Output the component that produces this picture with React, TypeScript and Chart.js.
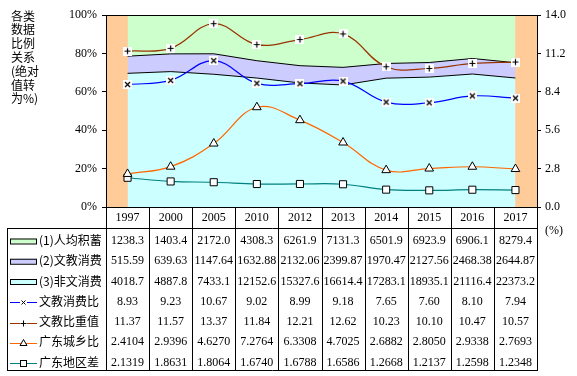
import React, { useEffect, useRef } from "react";
import { Chart, registerables } from "chart.js";

Chart.register(...registerables);

const years = ["1997", "2000", "2005", "2010", "2012", "2013", "2014", "2015", "2016", "2017"];
const savings = [1238.3, 1403.4, 2172.0, 4308.3, 6261.9, 7131.3, 6501.9, 6923.9, 6906.1, 8279.4];
const culture = [515.59, 639.63, 1147.64, 1632.88, 2132.06, 2399.87, 1970.47, 2127.56, 2468.38, 2644.87];
const nonCulture = [4018.7, 4887.8, 7433.1, 12152.6, 15327.6, 16614.4, 17283.1, 18935.1, 21116.4, 22373.2];
const cultureRatio = [8.93, 9.23, 10.67, 9.02, 8.99, 9.18, 7.65, 7.6, 8.1, 7.94];
const cultureWeight = [11.37, 11.57, 13.37, 11.84, 12.21, 12.62, 10.23, 10.1, 10.47, 10.57];
const urbanRural = [2.4104, 2.9396, 4.627, 7.2764, 6.3308, 4.7025, 2.6882, 2.805, 2.9338, 2.7693];
const regional = [2.1319, 1.8631, 1.8064, 1.674, 1.6788, 1.6586, 1.2668, 1.2137, 1.2598, 1.2348];

const leftTicks = [0, 20, 40, 60, 80, 100];
const rightMax = 14;
const rightStep = 2.8;

const seriesNames = ["(1)人均积蓄", "(2)文教消费", "(3)非文消费", "文教消费比", "文教比重值", "广东城乡比", "广东地区差"];
const titleLines = ["各类", "数据", "比例", "关系", "(绝对", "值转", "为%)"];

const SERIF = "'Liberation Serif', 'Times New Roman', serif";
const CJK = "'Noto Sans CJK SC', sans-serif";

function makeMarker(kind: "x" | "+"): HTMLCanvasElement {
  const c = document.createElement("canvas");
  c.width = 9;
  c.height = 9;
  const g = c.getContext("2d")!;
  g.fillStyle = "#fff";
  g.fillRect(0, 0, 9, 9);
  g.strokeStyle = "#000";
  g.lineWidth = 1.2;
  g.beginPath();
  if (kind === "x") {
    g.moveTo(2, 2); g.lineTo(7, 7);
    g.moveTo(7, 2); g.lineTo(2, 7);
  } else {
    g.moveTo(4.5, 1.5); g.lineTo(4.5, 7.5);
    g.moveTo(1.5, 4.5); g.lineTo(7.5, 4.5);
  }
  g.stroke();
  return c;
}

export default function App() {
  const ref = useRef<HTMLCanvasElement | null>(null);

  useEffect(() => {
    if (!ref.current) return;
    const totals = years.map((_, i) => savings[i] + culture[i] + nonCulture[i]);
    const pct = (arr: number[]) => arr.map((v, i) => (v / totals[i]) * 100);

    const tableRows: string[][] = [
      savings.map((v) => v.toFixed(1)),
      culture.map((v) => v.toFixed(2)),
      nonCulture.map((v) => v.toFixed(1)),
      cultureRatio.map((v) => v.toFixed(2)),
      cultureWeight.map((v) => v.toFixed(2)),
      urbanRural.map((v) => v.toFixed(4)),
      regional.map((v) => v.toFixed(4)),
    ];
    const areaColors = ["#CCFFCC", "#CCCCFF", "#CCFFFF"];
    const lineColors = ["#0000FF", "#993300", "#FF6600", "#008080"];

    const plugin = {
      id: "excelLook",
      beforeDraw(chart: any) {
        const { ctx, chartArea: a } = chart;
        ctx.save();
        ctx.fillStyle = "#fff";
        ctx.fillRect(0, 0, chart.width, chart.height);
        ctx.fillStyle = "#FFCC99";
        ctx.fillRect(a.left, a.top, a.right - a.left, a.bottom - a.top);
        ctx.restore();
      },
      afterDraw(chart: any) {
        const { ctx, chartArea: a } = chart;
        const xs = chart.scales.x;
        ctx.save();
        // plot border
        ctx.strokeStyle = "#000";
        ctx.lineWidth = 1;
        ctx.strokeRect(Math.round(a.left) + 0.5, Math.round(a.top) + 0.5, Math.round(a.right - a.left), Math.round(a.bottom - a.top));

        // left title
        ctx.fillStyle = "#000";
        ctx.font = "12px " + CJK;
        ctx.textAlign = "left";
        ctx.textBaseline = "middle";
        titleLines.forEach((t, i) => ctx.fillText(t, 11, 16 + i * 13.8));

        // "(%)"
        ctx.font = "12px " + SERIF;
        ctx.fillText("(%)", 545, 231);

        // table geometry
        const n = years.length;
        const colW = (a.right - a.left) / n;
        const headTop = Math.round(a.bottom);
        const headBottom = 228;
        const tableBottom = 370;
        const tableLeft = 7;
        const right = Math.round(a.right);
        const rowCenter = (i: number) => 240.5 + i * 20.25;

        ctx.strokeStyle = "#000";
        ctx.lineWidth = 1;
        ctx.beginPath();
        for (let i = 0; i <= n; i++) {
          const x = Math.round(a.left + i * colW) + 0.5;
          ctx.moveTo(x, headTop);
          ctx.lineTo(x, tableBottom);
        }
        ctx.moveTo(tableLeft, headBottom + 0.5);
        ctx.lineTo(right + 1, headBottom + 0.5);
        ctx.moveTo(tableLeft, tableBottom + 0.5);
        ctx.lineTo(right + 1, tableBottom + 0.5);
        ctx.moveTo(tableLeft + 0.5, headBottom);
        ctx.lineTo(tableLeft + 0.5, tableBottom + 1);
        ctx.stroke();

        // header years
        ctx.font = "12px " + SERIF;
        ctx.textAlign = "center";
        ctx.textBaseline = "middle";
        years.forEach((y, i) => ctx.fillText(y, xs.getPixelForValue(i), 218));

        // values
        tableRows.forEach((row, r) => {
          row.forEach((s, i) => ctx.fillText(s, xs.getPixelForValue(i), rowCenter(r) + 0.5));
        });

        // legend column
        seriesNames.forEach((name, r) => {
          const cy = rowCenter(r);
          if (r < 3) {
            ctx.fillStyle = areaColors[r];
            ctx.fillRect(10.5, cy - 2, 26, 5);
            ctx.strokeStyle = "#000";
            ctx.strokeRect(10.5, cy - 2 + 0.5, 26, 5);
          } else {
            const ly = Math.round(cy + 1) + 0.5;
            ctx.strokeStyle = lineColors[r - 3];
            ctx.lineWidth = 1;
            ctx.beginPath();
            ctx.moveTo(10, ly);
            ctx.lineTo(37, ly);
            ctx.stroke();
            const mx = 23.5;
            ctx.strokeStyle = "#000";
            ctx.fillStyle = "#fff";
            if (r === 3 || r === 4) {
              ctx.fillRect(mx - 3.5, ly - 3.5, 7, 7);
              ctx.beginPath();
              if (r === 3) {
                ctx.moveTo(mx - 2, ly - 2); ctx.lineTo(mx + 2, ly + 2);
                ctx.moveTo(mx + 2, ly - 2); ctx.lineTo(mx - 2, ly + 2);
              } else {
                ctx.moveTo(mx, ly - 3); ctx.lineTo(mx, ly + 3);
                ctx.moveTo(mx - 3, ly); ctx.lineTo(mx + 3, ly);
              }
              ctx.stroke();
            } else if (r === 5) {
              ctx.beginPath();
              ctx.moveTo(mx, ly - 4);
              ctx.lineTo(mx + 3.5, ly + 2);
              ctx.lineTo(mx - 3.5, ly + 2);
              ctx.closePath();
              ctx.fill();
              ctx.stroke();
            } else {
              ctx.fillRect(mx - 3, ly - 3, 6, 6);
              ctx.strokeRect(mx - 3, ly - 3, 6, 6);
            }
          }
          ctx.fillStyle = "#000";
          ctx.font = "12px " + CJK;
          ctx.textAlign = "left";
          ctx.fillText(name, 39, cy);
          ctx.font = "12px " + SERIF;
          ctx.textAlign = "center";
        });
        ctx.restore();
      },
    };

    const xMark = makeMarker("x");
    const plusMark = makeMarker("+");

    const areaBase = {
      type: "line" as const,
      yAxisID: "y",
      borderColor: "#000",
      borderWidth: 1,
      pointRadius: 0,
      tension: 0,
      order: 2,
    };
    const lineBase = {
      type: "line" as const,
      yAxisID: "y1",
      borderWidth: 1.2,
      tension: 0.4,
      fill: false,
      order: 1,
      pointBorderColor: "#000",
      pointBackgroundColor: "#fff",
      pointBorderWidth: 1,
    };

    const chart = new Chart(ref.current, {
      type: "line",
      data: {
        labels: years,
        datasets: [
          { ...areaBase, label: seriesNames[2], data: pct(nonCulture), backgroundColor: areaColors[2], fill: "origin" },
          { ...areaBase, label: seriesNames[1], data: pct(culture), backgroundColor: areaColors[1], fill: "-1" },
          { ...areaBase, label: seriesNames[0], data: pct(savings), backgroundColor: areaColors[0], fill: "-1" },
          { ...lineBase, label: seriesNames[3], data: cultureRatio, borderColor: lineColors[0], pointStyle: xMark as any, pointRadius: 4.5 },
          { ...lineBase, label: seriesNames[4], data: cultureWeight, borderColor: lineColors[1], pointStyle: plusMark as any, pointRadius: 4.5 },
          { ...lineBase, label: seriesNames[5], data: urbanRural, borderColor: lineColors[2], pointStyle: "triangle", pointRadius: 5 },
          { ...lineBase, label: seriesNames[6], data: regional, borderColor: lineColors[3], pointStyle: "rect", pointRadius: 5 },
        ] as any,
      },
      options: {
        responsive: false,
        animation: false,
        devicePixelRatio: 1,
        layout: { padding: { left: 0, right: 0, top: 15, bottom: 169 } },
        plugins: { legend: { display: false }, tooltip: { enabled: false }, title: { display: false } },
        scales: {
          x: { type: "category", offset: true, display: false },
          y: {
            type: "linear",
            position: "left",
            stacked: true,
            min: 0,
            max: 100,
            afterFit: (s: any) => { s.width = 106; },
            afterBuildTicks: (s: any) => { s.ticks = leftTicks.map((v) => ({ value: v })); },
            ticks: { color: "#000", font: { family: SERIF, size: 12 }, padding: 5, callback: (v: any) => v + "%" },
            grid: { drawOnChartArea: false, drawTicks: true, tickLength: 4, color: "#000" },
            border: { display: true, color: "#000" },
          },
          y1: {
            type: "linear",
            position: "right",
            min: 0,
            max: rightMax,
            afterFit: (s: any) => { s.width = 40; },
            ticks: { stepSize: rightStep, color: "#000", font: { family: SERIF, size: 12 }, padding: 4, callback: (v: any) => Number(v).toFixed(1) },
            grid: { drawOnChartArea: false, drawTicks: true, tickLength: 4, color: "#000" },
            border: { display: true, color: "#000" },
          },
        },
      } as any,
      plugins: [plugin],
    });
    return () => chart.destroy();
  }, []);

  return (
    <div style={{ position: "absolute", left: 0, top: 0, width: 577, height: 376 }}>
      <canvas ref={ref} width={577} height={376} style={{ display: "block", width: 577, height: 376 }} />
    </div>
  );
}
